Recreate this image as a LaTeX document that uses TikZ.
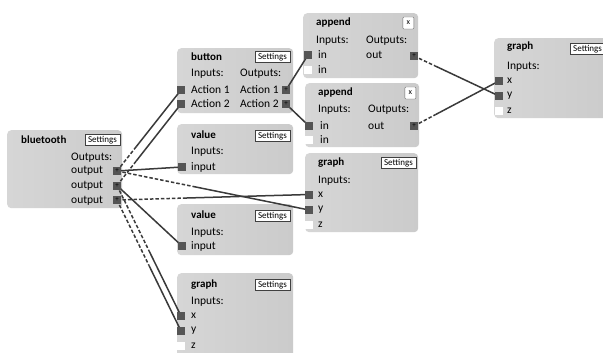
\documentclass[tikz,border=0pt]{standalone}
\usepackage{fontspec}
\setmainfont{Carlito}
\usetikzlibrary{calc}
\definecolor{boxbg}{RGB}{214,214,214}
\definecolor{boxbg2}{RGB}{203,203,203}
\definecolor{portc}{RGB}{85,85,85}
\definecolor{wirec}{RGB}{58,58,58}
\pgfdeclarelayer{paper}
\pgfdeclarelayer{boxes}
\pgfdeclarelayer{wires}
\pgfsetlayers{paper,boxes,wires,main}
\tikzset{
  box/.style={anchor=north west, left color=boxbg, right color=boxbg2, rounded corners=4pt, inner sep=0pt, draw=none},
  port/.style={minimum size=8pt, inner sep=0pt, fill=portc},
  oport/.style={port, font=\fontsize{7}{7}\selectfont, text=black},
  eport/.style={minimum size=8pt, inner sep=0pt, fill=white},
  ttl/.style={anchor=west, font=\bfseries\fontsize{11}{12}\selectfont, inner sep=0pt},
  lbl/.style={anchor=west, font=\fontsize{11.5}{12}\selectfont, inner sep=0pt},
  sbtn/.style={anchor=east, draw=black!75, fill=white, font=\fontsize{9}{10}\selectfont, inner xsep=3pt, inner ysep=1.5pt, minimum height=11pt},
  xbtn/.style={anchor=east, draw=black!60, fill=white, font=\fontsize{8}{8}\selectfont, inner sep=0pt, minimum width=11pt, minimum height=12pt, rounded corners=1pt},
  wire/.style={draw=wirec, line width=1.5pt},
  dwire/.style={wire, dash pattern=on 3.5pt off 2pt},
}
\newcommand\wirelink[3]{%
  \begin{pgfonlayer}{wires}
    \draw[dwire] (#1.center) -- ($(#1.center)!#3!(#2.center)$);
    \draw[wire] ($(#1.center)!#3!(#2.center)$) -- (#2.center);
  \end{pgfonlayer}}
\newcommand\solidlink[2]{%
  \begin{pgfonlayer}{wires}
    \draw[wire] (#1.center) -- (#2.center);
  \end{pgfonlayer}}
\begin{document}
\begin{tikzpicture}[x=1pt,y=-1pt]
\useasboundingbox (0,0) rectangle (603,353);
\begin{pgfonlayer}{paper}
  \fill[white] (0,0) rectangle (603,353);
\end{pgfonlayer}

% ---------- boxes ----------
\begin{pgfonlayer}{boxes}
  \node[box, minimum width=115pt, minimum height=78pt] (bt) at (7,130) {};
  \node[box, minimum width=116pt, minimum height=65pt] (btn) at (177,48) {};
  \node[box, minimum width=116pt, minimum height=50pt] (v1) at (177,124) {};
  \node[box, minimum width=116pt, minimum height=51pt] (v2) at (177,204) {};
  \node[box, minimum width=116pt, minimum height=85pt] (gb) at (177,273) {};
  \node[box, minimum width=115pt, minimum height=65pt] (ap1) at (303,13) {};
  \node[box, minimum width=114pt, minimum height=64pt] (ap2) at (305,83) {};
  \node[box, minimum width=113pt, minimum height=79pt] (gm) at (305,153) {};
  \node[box, minimum width=120pt, minimum height=80pt] (gr) at (494,38) {};
\end{pgfonlayer}

% ---------- bluetooth ----------
\node[ttl] (bt-t) at (21,140) {bluetooth};
\node[sbtn] (bt-s) at (120,140) {Settings};
\node[lbl] (bt-ol) at (71,158) {Outputs:};
\node[lbl] (bt-l1) at (71,171) {output};
\node[lbl] (bt-l2) at (71,186) {output};
\node[lbl] (bt-l3) at (71,200.5) {output};
\node[oport] (bt-o1) at (117,171) {+};
\node[oport] (bt-o2) at (117,185.5) {+};
\node[oport] (bt-o3) at (117,200) {+};

% ---------- button ----------
\node[ttl] (btn-t) at (191,57) {button};
\node[sbtn] (btn-s) at (290,57) {Settings};
\node[lbl] (btn-il) at (191,74) {Inputs:};
\node[lbl] (btn-ol) at (240,74) {Outputs:};
\node[lbl] (btn-a1) at (191,90) {Action 1};
\node[lbl] (btn-a2) at (191,104) {Action 2};
\node[lbl] (btn-b1) at (240,90) {Action 1};
\node[lbl] (btn-b2) at (240,104) {Action 2};
\node[port] (btn-i1) at (181,90) {};
\node[port] (btn-i2) at (181,104) {};
\node[oport] (btn-o1) at (286,90) {+};
\node[oport] (btn-o2) at (286,104) {+};

% ---------- value 1 ----------
\node[ttl] (v1-t) at (191,135) {value};
\node[sbtn] (v1-s) at (290,136) {Settings};
\node[lbl] (v1-il) at (191,152) {Inputs:};
\node[lbl] (v1-l) at (191,167) {input};
\node[port] (v1-i) at (182,167) {};

% ---------- value 2 ----------
\node[ttl] (v2-t) at (191,215) {value};
\node[sbtn] (v2-s) at (290,216) {Settings};
\node[lbl] (v2-il) at (191,233) {Inputs:};
\node[lbl] (v2-l) at (191,246) {input};
\node[port] (v2-i) at (182,246) {};

% ---------- graph bottom ----------
\node[ttl] (gb-t) at (191,285) {graph};
\node[sbtn] (gb-s) at (290,285) {Settings};
\node[lbl] (gb-il) at (191,302) {Inputs:};
\node[lbl] (gb-lx) at (191,316) {x};
\node[lbl] (gb-ly) at (191,331) {y};
\node[lbl] (gb-lz) at (191,346) {z};
\node[port] (gb-x) at (181,316) {};
\node[port] (gb-y) at (181,331) {};
\node[eport] (gb-z) at (181,346) {};

% ---------- append 1 ----------
\node[ttl] (ap1-t) at (316,23) {append};
\node[xbtn] (ap1-c) at (414,23) {x};
\node[lbl] (ap1-il) at (316,41) {Inputs:};
\node[lbl] (ap1-ol) at (366,41) {Outputs:};
\node[lbl] (ap1-l1) at (318,55) {in};
\node[lbl] (ap1-l2) at (318,70) {in};
\node[lbl] (ap1-lo) at (366,55) {out};
\node[port] (ap1-i) at (308,55) {};
\node[eport] (ap1-j) at (308,70) {};
\node[oport] (ap1-o) at (414,56) {+};

% ---------- append 2 ----------
\node[ttl] (ap2-t) at (318,93) {append};
\node[xbtn] (ap2-c) at (416,93) {x};
\node[lbl] (ap2-il) at (318,110) {Inputs:};
\node[lbl] (ap2-ol) at (368,110) {Outputs:};
\node[lbl] (ap2-l1) at (320,126) {in};
\node[lbl] (ap2-l2) at (320,140) {in};
\node[lbl] (ap2-lo) at (368,126) {out};
\node[port] (ap2-i) at (309,126) {};
\node[eport] (ap2-j) at (309,140) {};
\node[oport] (ap2-o) at (414,126) {+};

% ---------- graph middle ----------
\node[ttl] (gm-t) at (318,163) {graph};
\node[sbtn] (gm-s) at (416,163) {Settings};
\node[lbl] (gm-il) at (318,181) {Inputs:};
\node[lbl] (gm-lx) at (318,195) {x};
\node[lbl] (gm-ly) at (318,210) {y};
\node[lbl] (gm-lz) at (318,225) {z};
\node[port] (gm-x) at (309,194.5) {};
\node[port] (gm-y) at (309,210) {};
\node[eport] (gm-z) at (309,225) {};

% ---------- graph right ----------
\node[ttl] (gr-t) at (507,47) {graph};
\node[sbtn, anchor=west] (gr-s) at (570,49) {Settings};
\node[lbl] (gr-il) at (507,67) {Inputs:};
\node[lbl] (gr-lx) at (507,81) {x};
\node[lbl] (gr-ly) at (507,96) {y};
\node[lbl] (gr-lz) at (507,111) {z};
\node[port] (gr-x) at (499,81) {};
\node[port] (gr-y) at (499,96) {};
\node[eport] (gr-z) at (499,111) {};

% ---------- wires ----------
\wirelink{bt-o1}{btn-i1}{0.3}
\wirelink{bt-o2}{btn-i2}{0.3}
\solidlink{bt-o1}{v1-i}
\wirelink{bt-o1}{gm-y}{0.4}
\wirelink{bt-o3}{gm-x}{0.35}
\solidlink{bt-o2}{v2-i}
\wirelink{bt-o2}{gb-x}{0.5}
\wirelink{bt-o3}{gb-y}{0.5}
\solidlink{btn-o1}{ap1-i}
\solidlink{btn-o2}{ap2-i}
\wirelink{ap1-o}{gr-y}{0.25}
\wirelink{ap2-o}{gr-x}{0.25}
\end{tikzpicture}
\end{document}
